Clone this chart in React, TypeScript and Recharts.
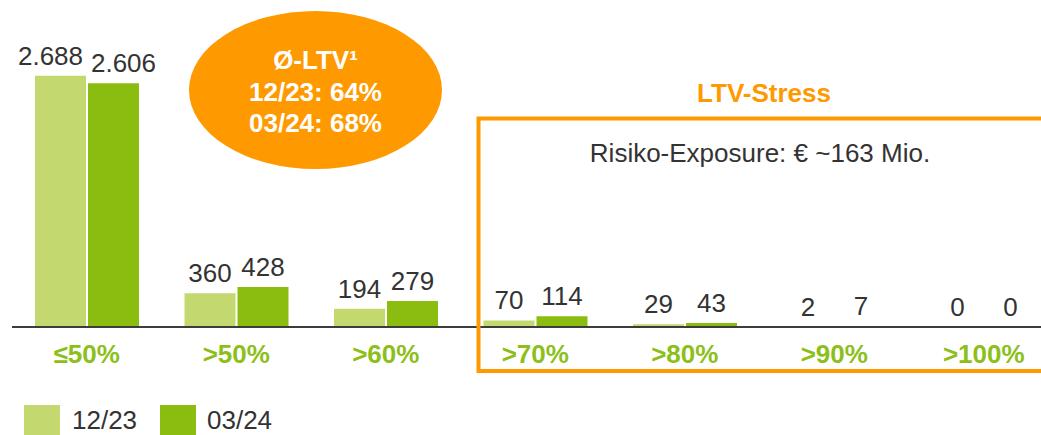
import React from "react";
import { BarChart, Bar, XAxis, YAxis, LabelList, Legend } from "recharts";

const categories = ["≤50%", ">50%", ">60%", ">70%", ">80%", ">90%", ">100%"];
const values1223 = [2688, 360, 194, 70, 29, 2, 0];
const values0324 = [2606, 428, 279, 114, 43, 7, 0];
const seriesNames = ["12/23", "03/24"];
const ltvLines = ["Ø-LTV¹", "12/23: 64%", "03/24: 68%"];
const stressTitle = "LTV-Stress";
const stressText = "Risiko-Exposure: € ~163 Mio.";

const data = categories.map((c, i) => ({ cat: c, a: values1223[i], b: values0324[i] }));

const LIGHT = "#C3D970";
const DARK = "#8ABD10";
const TICK_GREEN = "#8CBF1A";
const ORANGE = "#FF9900";
const TEXT = "#333333";
const FONT = "'Liberation Sans', Arial, Helvetica, sans-serif";

const fmt = (v: number) => v.toString().replace(/\B(?=(\d{3})+(?!\d))/g, ".");

const makeLabel = (shift: number) => (props: any) => {
  const { x, y, width, value, index } = props;
  const dx = index === 0 ? shift : 0;
  return (
    <text
      x={x + width / 2 + dx}
      y={y - 11}
      textAnchor="middle"
      fill={TEXT}
      fontSize={26}
      fontFamily={FONT}
    >
      {fmt(value)}
    </text>
  );
};

const Tick = (props: any) => {
  const { x, y, payload } = props;
  return (
    <text
      x={x}
      y={y + 28}
      textAnchor="middle"
      fill={TICK_GREEN}
      fontSize={26}
      fontWeight="bold"
      fontFamily={FONT}
    >
      {payload.value}
    </text>
  );
};

const LegendContent = () => (
  <div style={{ height: 0, position: "relative", fontFamily: FONT }}>
    {[LIGHT, DARK].map((col, i) => (
      <React.Fragment key={i}>
        <div
          style={{
            position: "absolute",
            left: i === 0 ? 24 : 160,
            top: 0,
            width: 36,
            height: 30,
            background: col,
          }}
        />
        <div
          style={{
            position: "absolute",
            left: i === 0 ? 72 : 207,
            top: 0,
            fontSize: 26,
            lineHeight: "30px",
            color: TEXT,
            whiteSpace: "nowrap",
          }}
        >
          {seriesNames[i]}
        </div>
      </React.Fragment>
    ))}
  </div>
);

export default function App() {
  return (
    <div style={{ position: "relative", width: 1041, height: 435, overflow: "hidden", background: "#fff" }}>
      <style>{`body{margin:0;overflow:hidden;}`}</style>
      <BarChart
        width={1060}
        height={435}
        data={data}
        margin={{ top: 46.5, right: 1.5, left: 12, bottom: 68 }}
        barSize={51}
        barGap={2}
      >
        <XAxis
          dataKey="cat"
          axisLine={{ stroke: "#3C3C3C", strokeWidth: 2 }}
          tickLine={false}
          tick={<Tick />}
          height={40}
          interval={0}
        />
        <YAxis hide domain={[0, 3000]} />
        <Legend
          verticalAlign="bottom"
          content={<LegendContent />}
          wrapperStyle={{ position: "absolute", top: 405, left: 0, width: 400 }}
        />
        <Bar dataKey="a" name={seriesNames[0]} fill={LIGHT} minPointSize={0.01} isAnimationActive={false}>
          <LabelList dataKey="a" content={makeLabel(-10)} />
        </Bar>
        <Bar dataKey="b" name={seriesNames[1]} fill={DARK} minPointSize={0.01} isAnimationActive={false}>
          <LabelList dataKey="b" content={makeLabel(10)} />
        </Bar>
      </BarChart>
      <svg
        width={1041}
        height={435}
        style={{ position: "absolute", left: 0, top: 0, pointerEvents: "none" }}
      >
        <ellipse cx={315.5} cy={90} rx={126.5} ry={79} fill={ORANGE} />
        {ltvLines.map((t, i) => (
          <text
            key={i}
            x={315.5}
            y={69 + i * 31.5}
            textAnchor="middle"
            fill="#fff"
            fontSize={26}
            fontWeight="bold"
            fontFamily={FONT}
          >
            {t}
          </text>
        ))}
        <text
          x={764}
          y={102}
          textAnchor="middle"
          fill={ORANGE}
          fontSize={26}
          fontWeight="bold"
          fontFamily={FONT}
        >
          {stressTitle}
        </text>
        <rect x={478.5} y={118.5} width={640} height={252.5} fill="none" stroke={ORANGE} strokeWidth={4} />
        <text x={760} y={162} textAnchor="middle" fill={TEXT} fontSize={26} fontFamily={FONT}>
          {stressText}
        </text>
      </svg>
    </div>
  );
}
